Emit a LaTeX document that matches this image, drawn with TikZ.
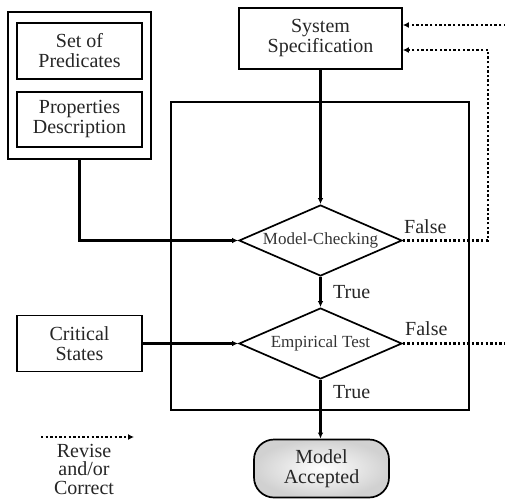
\documentclass[tikz,border=0pt]{standalone}
\usepackage{fontspec}
\setmainfont{Liberation Serif}
\usetikzlibrary{shapes.geometric,arrows.meta}
\begin{document}
\begin{tikzpicture}[x=1pt,y=-1pt,
  boxtext/.style={font=\fontsize{20}{20}\selectfont,align=center,text=black!85},
  stepbox/.style={draw,line width=1.7pt,boxtext,inner sep=0pt},
  decision/.style={draw,line width=1.7pt,shape=diamond,aspect=2.3,minimum width=163pt,minimum height=71pt,inner sep=0pt,
     font=\fontsize{17}{17}\selectfont,text=black!80},
  lbl/.style={font=\fontsize{20}{20}\selectfont,text=black!85,inner sep=0pt},
  arr/.style={line width=2.2pt,-{Latex[length=6pt,width=5.5pt]}},
  revise/.style={dash pattern=on 2.4pt off 2.2pt,line width=2.8pt,-{Latex[length=6pt,width=6pt]}},
  reviseline/.style={dash pattern=on 2.4pt off 2.2pt,line width=2.8pt}
]
\useasboundingbox (0,0) rectangle (505,499);

% left group
\node[draw,line width=1.7pt,minimum width=143pt,minimum height=147pt,inner sep=0pt] (outer) at (79.5,85.5) {};
\node[stepbox,minimum width=125pt,minimum height=56pt] (pred) at (79.5,51) {Set of\\Predicates};
\node[stepbox,minimum width=125pt,minimum height=55pt] (prop) at (79.5,119.5) {Properties\\Description};

% big frame
\node[draw,line width=1.7pt,minimum width=298pt,minimum height=308pt,inner sep=0pt] (frame) at (320,256) {};

% spec
\node[stepbox,minimum width=163pt,minimum height=61pt] (spec) at (320.5,38.5) {System\\Specification};

% decisions
\node[decision] (mc) at (320.5,240.5) {Model-Checking};
\node[decision] (et) at (320.5,343.5) {Empirical Test};

% critical states
\node[stepbox,minimum width=125pt,minimum height=56pt] (crit) at (79.5,343.5) {Critical\\States};

% model accepted
\node[draw,line width=1.7pt,minimum width=135pt,minimum height=58pt,rounded corners=20pt,inner sep=0pt,
      inner color=white,outer color=black!18,boxtext] (acc) at (321.5,468.5) {Model\\Accepted};

% solid connectors
\coordinate (bend1) at (outer.south |- mc.west);
\draw[arr] (outer.south) -- (bend1) -- (mc.west);
\draw[arr] (crit.east) -- (et.west);
\draw[arr] (spec.south) -- (mc.north);
\draw[arr] (mc.south) -- (et.north);
\coordinate (accin) at (et.south |- acc.north);
\draw[arr] (et.south) -- (accin);

% labels
\node[lbl,anchor=base west] (t1) at (333,298) {True};
\node[lbl,anchor=base west] (t2) at (333,398) {True};
\node[lbl,anchor=base west] (f1) at (404,233) {False};
\node[lbl,anchor=base west] (f2) at (405,335) {False};

% dotted revise loops
\coordinate (c1) at (488,240.5);
\coordinate (c2) at (488,50);
\coordinate (spec2) at (spec.east |- c2);
\draw[reviseline] (mc.east) -- (c1) -- (c2);
\draw[revise] (c2) -- (spec2);
\coordinate (e1) at (506,343.5);
\draw[reviseline] (et.east) -- (e1);
\coordinate (e2) at (506,25);
\coordinate (spec1) at (spec.east |- e2);
\draw[revise] (e2) -- (spec1);

% legend
\coordinate (l1) at (41,437);
\coordinate (l2) at (134,437);
\draw[revise] (l1) -- (l2);
\node[font=\fontsize{20}{18.5}\selectfont,align=center,text=black!85,inner sep=0pt,anchor=north] (legtext) at (84,444) {Revise\\and/or\\Correct};
\end{tikzpicture}
\end{document}
